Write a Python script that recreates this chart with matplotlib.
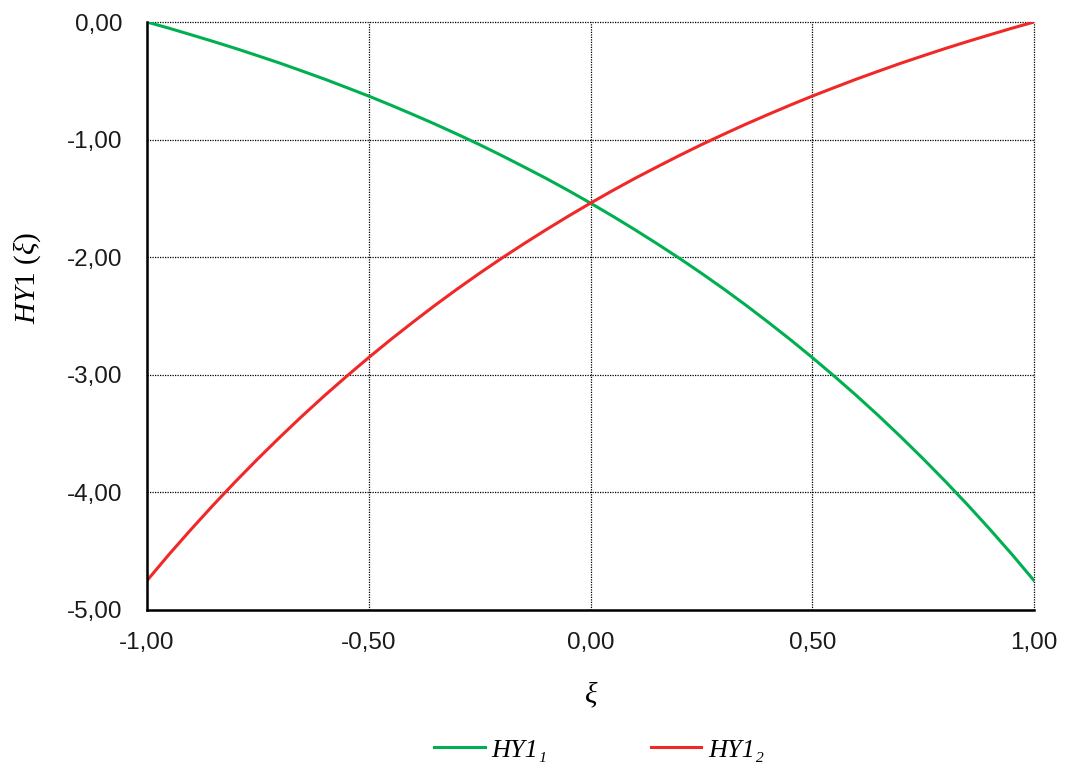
import matplotlib
matplotlib.use("Agg")
import matplotlib.pyplot as plt
import numpy as np

plt.rcParams['font.family'] = ['Liberation Sans', 'DejaVu Sans']
plt.rcParams['mathtext.fontset'] = 'custom'
plt.rcParams['mathtext.rm'] = 'Liberation Serif'
plt.rcParams['mathtext.it'] = 'Liberation Serif:italic'

# shape functions sampled along xi
xi = [-1.00, -0.95, -0.90, -0.85, -0.80, -0.75, -0.70, -0.65, -0.60, -0.55, -0.50,
      -0.45, -0.40, -0.35, -0.30, -0.25, -0.20, -0.15, -0.10, -0.05, 0.00,
      0.05, 0.10, 0.15, 0.20, 0.25, 0.30, 0.35, 0.40, 0.45, 0.50,
      0.55, 0.60, 0.65, 0.70, 0.75, 0.80, 0.85, 0.90, 0.95, 1.00]
hy1_1 = [0.000, -0.053, -0.109, -0.166, -0.225, -0.287, -0.350, -0.417, -0.485, -0.557, -0.630,
         -0.707, -0.787, -0.869, -0.955, -1.043, -1.136, -1.232, -1.330, -1.433, -1.540,
         -1.651, -1.766, -1.885, -2.008, -2.136, -2.269, -2.407, -2.551, -2.699, -2.853,
         -3.013, -3.178, -3.350, -3.529, -3.714, -3.906, -4.105, -4.312, -4.526, -4.750]
hy1_2 = hy1_1[::-1]

x_ticks = [-1.0, -0.5, 0.0, 0.5, 1.0]
y_ticks = [0, -1, -2, -3, -4, -5]

fig = plt.figure(figsize=(10.66, 7.62), dpi=100)
ax = fig.add_axes([0.1379, 0.1995, 0.8321, 0.7716])

ax.plot(xi, hy1_1, color='#00B050', lw=2.2, label='HY1\u2081', zorder=3)
ax.plot(xi, hy1_2, color='#F02828', lw=2.2, label='HY1\u2082', zorder=3)

ax.set_xlim(-1, 1)
ax.set_ylim(-5, 0)
ax.set_xticks(x_ticks)
ax.set_yticks(y_ticks)
fmt = lambda v: ('%.2f' % v).replace('.', ',').replace('-0,00', '0,00')
ax.set_xticklabels([fmt(v) for v in x_ticks])
ax.set_yticklabels([fmt(v) for v in y_ticks])
ax.tick_params(axis='both', length=0, labelsize=17.5, colors='#1a1a1a')
ax.tick_params(axis='y', pad=18)
ax.tick_params(axis='x', pad=16)

ax.grid(True, color='black', linestyle=(0, (1, 1)), linewidth=0.9, zorder=1)
ax.set_axisbelow(True)
for gl in ax.get_xgridlines() + ax.get_ygridlines():
    gl.set_clip_on(False)
for s in ['top', 'right']:
    ax.spines[s].set_visible(False)
for s in ['left', 'bottom']:
    ax.spines[s].set_linewidth(1.8)
    ax.spines[s].set_zorder(4)

# axis titles
fig.text(591 / 1066, 1 - 695 / 762, r'$\xi$', fontsize=21, ha='center', va='center')
fig.text(27 / 1066, 1 - 278 / 762, r'$HY$1 ($\xi$)', fontsize=21, rotation=90,
         ha='center', va='center', family='Liberation Serif')

fig.legend(loc='center', bbox_to_anchor=(0.562, 0.016), ncol=2, frameon=False,
           prop={'family': ['Liberation Serif', 'DejaVu Serif'], 'style': 'italic', 'size': 19},
           handlelength=1.93, columnspacing=3.9, handletextpad=0.27)

fig.savefig('out.png', dpi=100)
